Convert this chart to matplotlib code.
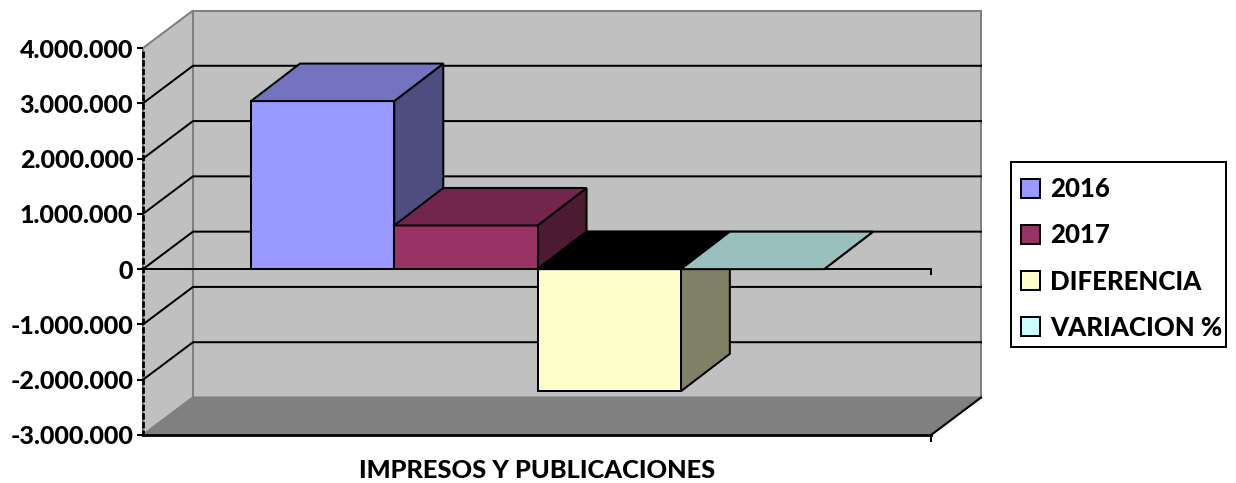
import matplotlib
matplotlib.use('Agg')
import matplotlib.pyplot as plt
from matplotlib.patches import Patch, Rectangle

plt.rcParams['font.family'] = ['Lato', 'DejaVu Sans']

# datos
series = ['2016', '2017', 'DIFERENCIA', 'VARIACION %']
valores = [3040000, 790000, -2210000, 0]
categoria = 'IMPRESOS Y PUBLICACIONES'
y_ticks = [-3000000, -2000000, -1000000, 0, 1000000, 2000000, 3000000, 4000000]

# colores: frente, arriba, lado
frente = ['#9999FF', '#993366', '#FFFFCC', '#CCFFFF']
arriba = ['#7373BF', '#73264D', '#000000', '#99BFBF']
lado = ['#4D4D80', '#4D1A33', '#808066', '#668080']

W, H = 1236, 483
fig = plt.figure(figsize=(W / 100, H / 100), dpi=100)
ax = fig.add_axes([143 / W, (H - 435) / H, 788 / W, 387 / H])
ax.set_xlim(-0.754, 4.746)
ax.set_ylim(-3000000, 4000000)

# profundidad del falso 3D, en unidades de datos
dx = 49 / 143.3
dx_pared = 50 / 143.3
dy = 37.5 / 387 * 7000000
x0, x1 = ax.get_xlim()
y0, y1 = ax.get_ylim()
gris = '#808080'
lw = 1.45


def cara(xs, ys, color, edge='black', z=2):
    ax.fill(xs, ys, facecolor=color, edgecolor=edge, linewidth=lw, clip_on=False,
            joinstyle='miter', zorder=z)


# paredes y piso
cara([x0 + dx_pared, x1 + dx_pared, x1 + dx_pared, x0 + dx_pared], [y0 + dy, y0 + dy, y1 + dy, y1 + dy], '#C0C0C0', gris, 1)
cara([x0, x0 + dx_pared, x0 + dx_pared, x0], [y0, y0 + dy, y1 + dy, y1], '#C0C0C0', gris, 1)
cara([x0, x1, x1 + dx_pared, x0 + dx_pared], [y0, y0, y0 + dy, y0 + dy], gris, gris, 1)
ax.plot([x1, x1 + dx_pared], [y0, y0 + dy], color='black', lw=lw, clip_on=False, zorder=1.5)

# lineas de division
for v in y_ticks[1:-1]:
    ax.plot([x0, x0 + dx_pared, x1 + dx_pared], [v, v + dy, v + dy], color='black', lw=lw,
            clip_on=False, zorder=1.5)

# ejes
ax.plot([x0, x1], [0, 0], color='black', lw=lw, zorder=1.6)
ax.plot([x0, x1], [y0, y0], color='black', lw=2, clip_on=False, zorder=1.6)
ax.plot([x1, x1], [0, -95000], color='black', lw=lw, clip_on=False, zorder=1.6)
ax.plot([x1, x1], [y0, y0 - 105000], color='black', lw=lw, clip_on=False, zorder=1.6)

# barras
for i, v in enumerate(valores):
    a, b = min(v, 0), max(v, 0)
    z = 2 + i
    cara([i + 1, i + 1 + dx, i + 1 + dx, i + 1], [a, a + dy, b + dy, b], lado[i], z=z)
    cara([i, i + 1, i + 1, i], [a, a, b, b], frente[i], z=z)
    cara([i, i + 1, i + 1 + dx, i + dx], [b, b, b + dy, b + dy], arriba[i], z=z)

ax.patch.set_visible(False)
for s in ['top', 'right', 'bottom']:
    ax.spines[s].set_visible(False)
ax.spines['left'].set_linewidth(2)
ax.spines['left'].set_linestyle((0, (1.3, 1.8)))
ax.spines['left'].set_zorder(10)

ax.set_xticks([])
ax.set_yticks(y_ticks)
ax.set_yticklabels([f'{v:,.0f}'.replace(',', '.') for v in y_ticks], fontsize=18, fontweight=900)
ax.tick_params(axis='y', length=4, width=1.5, pad=3)
ax.set_xlabel(categoria, fontsize=18.3, fontweight=900, labelpad=17)

# marco de la leyenda aparte: el texto queda mas pegado a la derecha que a la izquierda
fig.add_artist(Rectangle((1011 / W, (H - 347) / H), 215 / W, 185 / H, transform=fig.transFigure,
                         facecolor='white', edgecolor='black', linewidth=1.45))
handles = [Patch(facecolor=c, edgecolor='black', linewidth=1.45, label=s) for c, s in zip(frente, series)]
leg = fig.legend(handles=handles, loc='center', bbox_to_anchor=(1121.5 / W, (H - 258.5) / H),
                 prop={'size': 18.5, 'weight': 900}, frameon=False,
                 handlelength=0.75, handleheight=0.75, handletextpad=0.4, labelspacing=0.86,
                 borderpad=0, borderaxespad=0)

fig.savefig('out.png', dpi=100)
